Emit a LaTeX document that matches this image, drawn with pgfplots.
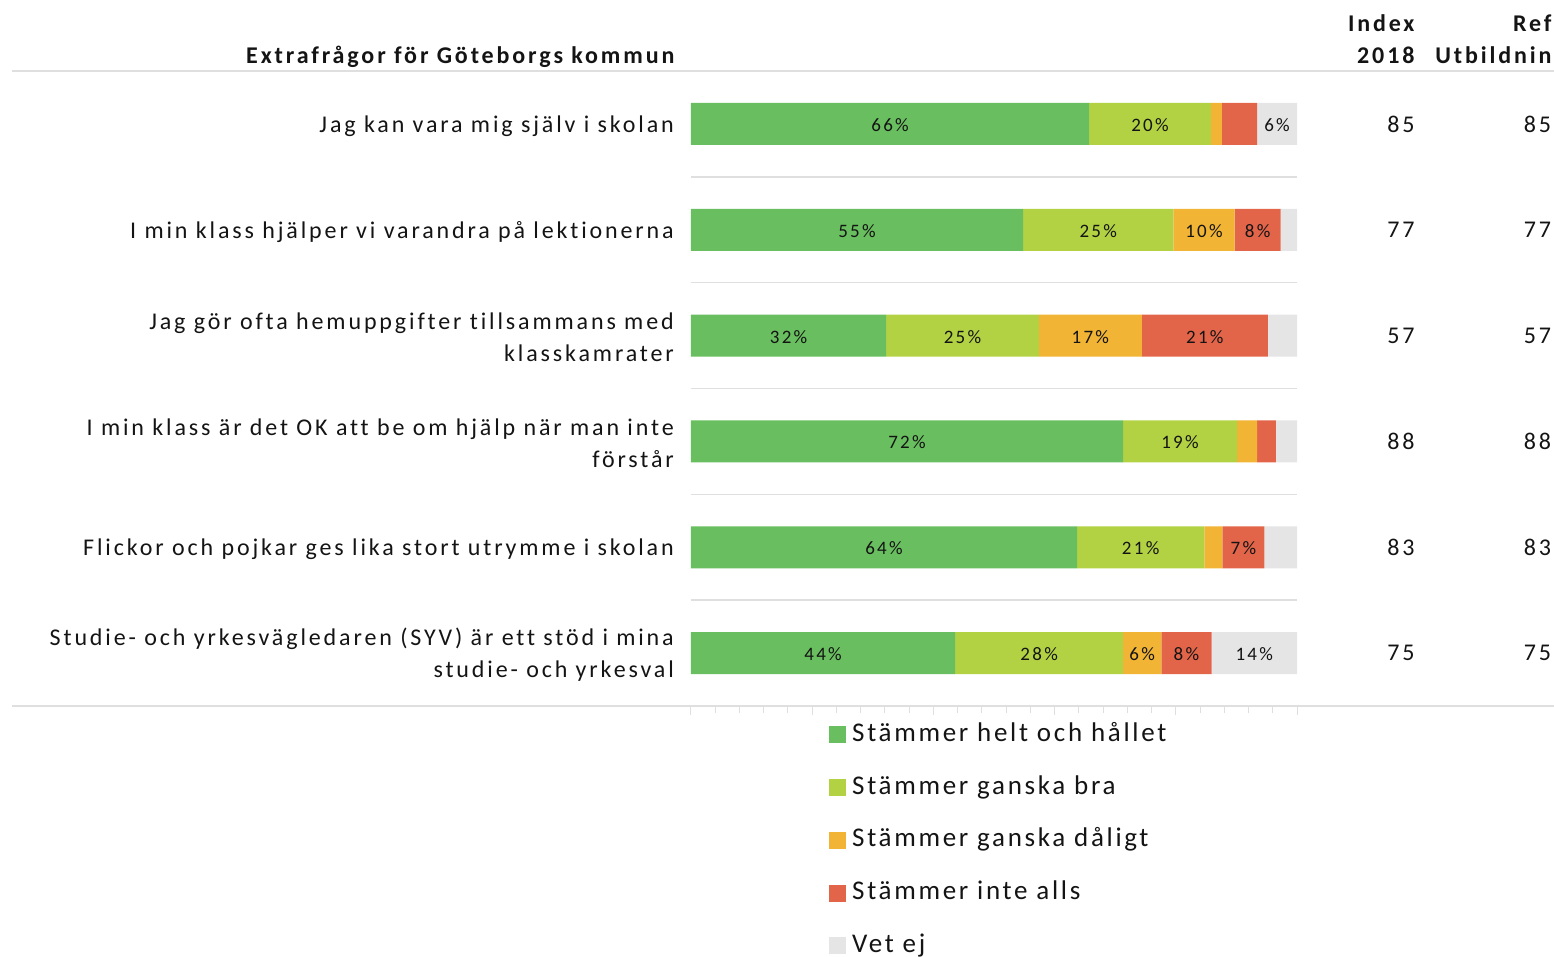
\documentclass[border=0pt]{standalone}
\usepackage{fontspec}
\setmainfont{Carlito}[LetterSpace=12, Ligatures={NoCommon}]
\usepackage{pgfplots}
\usepackage{pgfplotstable}
\pgfplotsset{compat=1.18}
\definecolor{cgreen}{HTML}{69BE60}
\definecolor{clime}{HTML}{B2D244}
\definecolor{corange}{HTML}{F1B434}
\definecolor{cred}{HTML}{E2654A}
\definecolor{cgray}{HTML}{E5E5E5}
\definecolor{cline}{HTML}{DFDFDF}
\definecolor{ctext}{HTML}{141414}

\pgfplotstableread{
y a b c d e la lb lc ld le
0 65.7 20.1 1.8 5.8 6.6 66 20 0 0 6
1 54.8 24.8 10.1 7.6 2.7 55 25 10 8 0
2 32.2 25.2 17.0 20.8 4.8 32 25 17 21 0
3 71.3 18.8 3.3 3.1 3.5 72 19 0 0 0
4 63.7 21.0 3.0 6.9 5.4 64 21 0 7 0
5 43.6 27.7 6.3 8.3 14.1 44 28 6 8 14
}\datatable

\begin{document}
\begin{tikzpicture}[font=\fontsize{24}{32}\selectfont, text=ctext]
\useasboundingbox (-691pt,-250pt) rectangle (863pt,706pt);
\begin{axis}[
  at={(0pt,0pt)}, anchor=south west,
  scale only axis, width=606pt, height=635pt,
  xbar stacked, bar width=42pt,
  xmin=0, xmax=100, ymin=-0.5, ymax=5.5, y dir=reverse,
  clip=false,
  axis line style={draw=none},
  axis x line*=bottom, axis y line*=left,
  xtick={0,20,...,100}, xticklabels={}, minor x tick num=4,
  tick align=outside,
  x tick style={draw=cline, line width=1pt},
  major tick length=9pt, minor tick length=7pt,
  ytick={0,...,5},
  minor ytick={0.5,1.5,...,4.5},
  yminorgrids=true,
  minor y grid style={draw=cline, line width=1.5pt},
  y tick style={draw=none},
  yticklabel style={align=right, inner sep=0pt, xshift=-8pt, yshift=-2pt, font=\fontsize{24}{32}\selectfont},
  yticklabels={
    {Jag kan vara mig själv i skolan},
    {I min klass hjälper vi varandra på lektionerna},
    {Jag gör ofta hemuppgifter tillsammans med\\klasskamrater},
    {I min klass är det OK att be om hjälp när man inte\\förstår},
    {Flickor och pojkar ges lika stort utrymme i skolan},
    {Studie- och yrkesvägledaren (SYV) är ett stöd i mina\\studie- och yrkesval}},
  point meta=explicit,
  nodes near coords={\pgfmathfloatifflags{\pgfplotspointmeta}{0}{}{\pgfmathprintnumber[fixed,precision=0,assume math mode=true]{\pgfplotspointmeta}\%}},
  every node near coord/.append style={font=\fontsize{19}{22}\selectfont, text=ctext, yshift=-1pt},
  legend style={draw=none, at={(axis description cs:0.2277,-0.0255)}, anchor=north west,
    font=\fontsize{27}{30}\selectfont\addfontfeatures{LetterSpace=10}, row sep=27.7pt, inner sep=0pt,
    nodes={inner sep=0pt, text height=19pt, text depth=6pt},
    /tikz/every odd column/.style={column sep=6pt}},
  legend cell align=left,
  legend image code/.code={\fill[#1] (0pt,-8.5pt) rectangle (17pt,8.5pt);},
]
\addplot[fill=cgreen, draw=none] table[x=a, y=y, meta=la] {\datatable};
\addplot[fill=clime, draw=none] table[x=b, y=y, meta=lb] {\datatable};
\addplot[fill=corange, draw=none] table[x=c, y=y, meta=lc] {\datatable};
\addplot[fill=cred, draw=none] table[x=d, y=y, meta=ld] {\datatable};
\addplot[fill=cgray, draw=none] table[x=e, y=y, meta=le] {\datatable};
\legend{Stämmer helt och hållet, Stämmer ganska bra, Stämmer ganska dåligt, Stämmer inte alls, Vet ej}
\node[anchor=east] at (axis cs:120,0) {85};
\node[anchor=east] at (axis cs:120,1) {77};
\node[anchor=east] at (axis cs:120,2) {57};
\node[anchor=east] at (axis cs:120,3) {88};
\node[anchor=east] at (axis cs:120,4) {83};
\node[anchor=east] at (axis cs:120,5) {75};
\node[anchor=east] at (axis cs:142.5,0) {85};
\node[anchor=east] at (axis cs:142.5,1) {77};
\node[anchor=east] at (axis cs:142.5,2) {57};
\node[anchor=east] at (axis cs:142.5,3) {88};
\node[anchor=east] at (axis cs:142.5,4) {83};
\node[anchor=east] at (axis cs:142.5,5) {75};
\end{axis}
\draw[cline, line width=2pt] (-679pt,635pt) -- (863pt,635pt);
\draw[cline, line width=2pt] (-679pt,0pt) -- (863pt,0pt);
\node[anchor=base east, font=\bfseries\fontsize{24}{32}\selectfont] at (-13pt,642pt) {Extrafrågor för Göteborgs kommun};
\node[anchor=base east, font=\bfseries\fontsize{24}{32}\selectfont] at (727pt,674pt) {Index};
\node[anchor=base east, font=\bfseries\fontsize{24}{32}\selectfont] at (727pt,642pt) {2018};
\node[anchor=base east, font=\bfseries\fontsize{24}{32}\selectfont] at (864pt,674pt) {Ref};
\node[anchor=base east, font=\bfseries\fontsize{24}{32}\selectfont] at (864pt,642pt) {Utbildnin};
\end{tikzpicture}
\end{document}
